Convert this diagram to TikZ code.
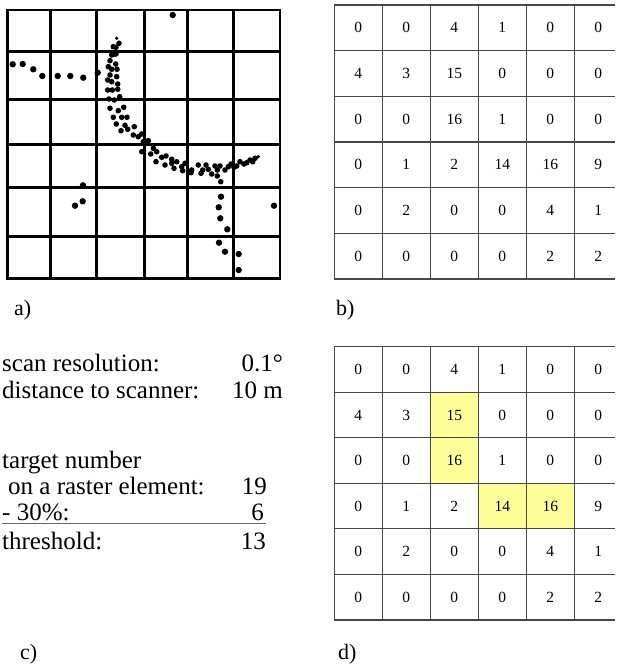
\documentclass[tikz,border=0pt]{standalone}
\usepackage{fontspec}
\setmainfont{Liberation Serif}
\definecolor{hiyellow}{HTML}{FFFF99}
\begin{document}
\begin{tikzpicture}[x=1pt,y=-1pt,
  agrid/.style={line width=2.6pt,black},
  ngrid/.style={line width=1.1pt,black!72},
  cellnum/.style={font=\fontsize{15.5}{17}\selectfont,inner sep=0pt},
  lbl/.style={font=\fontsize{22}{24}\selectfont,anchor=base west,inner sep=0pt},
  ctext/.style={font=\fontsize{25}{27}\selectfont,anchor=base west,inner sep=0pt},
  cnum/.style={font=\fontsize{25}{27}\selectfont,anchor=base east,inner sep=0pt}]
\useasboundingbox (0,0) rectangle (616,668);

% ---------- panel a: raster with scan points ----------
\foreach \x in {50.7,96.7,144.3,187.3,233.3}
  \draw[agrid] (\x,10) -- (\x,278.3);
\foreach \y in {51.7,99.3,144.3,187.7,236.7}
  \draw[agrid] (7.3,\y) -- (280,\y);
\draw[agrid] (7.3,10) rectangle (280,278.3);

% isolated / large points
\foreach \px/\py in {172.7/15,
  12.7/64.3,22.7/64,33.3/69.3,42.3/76,57.7/76,70.3/76,83.3/77.7,97.7/72.7,
  221/196.7,218.7/207.3,220.3/218.3,227.3/229.3,219/242.7,225/251.7,238.7/254,238.7/270,
  274/205.7,83/185.3,82.7/201.3,75/205.7}
  \fill (\px,\py) circle[radius=3.2pt];
% curved band of points
\foreach \px/\py in {
  119/43.3,113.3/46.7,116/47.3,111.7/55,114.3/54,116/54,110/60.7,115.7/64,
  108.3/66.7,111.7/69.3,117/69.3,110/75,116.7/76.7,107.7/80,111.7/81.7,117.7/84,
  107.7/90,112.3/90,117.7/89.3,109/99,114.3/100,119.7/96.7,110/108.3,118.3/110.7,
  123.7/107.3,113.3/117.3,121.7/117.3,127/117.3,116.3/124,125/125.3,121/130.7,
  127.7/129.3,134.3/126.7,
  133.3/135,138.3/136.7,141.7/134,143.3/141.7,148.3/140.7,141.7/151.7,153.3/148.3,
  156.7/151.7,150.7/154,156/161.7,161.7/157.3,166/156,165/165,171.7/163.3,174/168.3,
  171.7/159.3,176.7/161.7,181.7/166.7,185/163.3,182.7/170.7,191.7/170,191/172.7,
  198.3/165,202.7/170,201/173.3,206/165,208.3/169.3,211.7/174,215/166,217.3/170,
  217.3/176,220/166,220.7/181.7,225/170,228.3/166.7,231/164,234/167.3,236.7/166,
  240/161.7,244/164,246.7/162.7,250/160,252.7/161.7,255/158.3}
  \fill (\px,\py) circle[radius=2.8pt];
\fill (116.7,38.3) circle[radius=1.8pt];
\fill (258.3,156.7) circle[radius=1.8pt];

\node[lbl] (la) at (14,315) {a)};

% ---------- panel b: counts per raster element ----------
\foreach \row [count=\r from 0] in {{0,0,4,1,0,0},{4,3,15,0,0,0},{0,0,16,1,0,0},
                                    {0,1,2,14,16,9},{0,2,0,0,4,1},{0,0,0,0,2,2}}
  \foreach \v [count=\c from 0] in \row
    \node[cellnum] (b-\r-\c) at ({334.3+48*(\c+0.5)},{5+45.67*(\r+0.5)}) {\v};
\foreach \c in {0,...,5}
  \draw[ngrid] ({334.3+48*\c},5) -- ({334.3+48*\c},279);
\foreach \r in {0,...,6}
  \draw[ngrid] (334.3,{5+45.67*\r}) -- (614.5,{5+45.67*\r});

\node[lbl] (lb) at (336,315) {b)};

% ---------- panel c: parameters ----------
\node[ctext] (sr) at (2,371) {scan resolution:};
\node[cnum] (srv) at (283,371) {0.1°};
\node[ctext] (ds) at (2,398) {distance to scanner:};
\node[cnum] (dsv) at (283,398) {10 m};
\node[ctext] (tn) at (2,468) {target number};
\node[ctext] (oa) at (8,494) {on a raster element:};
\node[cnum] (oav) at (267,494) {19};
\node[ctext] (pc) at (2,520) {- 30\%:};
\node[cnum] (pcv) at (264,520) {6};
\coordinate (ul1) at (2,523.5);
\coordinate (ul2) at (266,523.5);
\draw[line width=1.3pt,black!60] (ul1) -- (ul2);
\node[ctext] (th) at (2,549) {threshold:};
\node[cnum] (thv) at (266,549) {13};

\node[lbl] (lc) at (20,659) {c)};

% ---------- panel d: elements above threshold ----------
\foreach \c/\r in {2/1,2/2,3/3,4/3}
  \fill[hiyellow] ({334.3+48*\c},{346.7+45.55*\r}) rectangle ++(48,45.55);
\foreach \row [count=\r from 0] in {{0,0,4,1,0,0},{4,3,15,0,0,0},{0,0,16,1,0,0},
                                    {0,1,2,14,16,9},{0,2,0,0,4,1},{0,0,0,0,2,2}}
  \foreach \v [count=\c from 0] in \row
    \node[cellnum] (d-\r-\c) at ({334.3+48*(\c+0.5)},{346.7+45.55*(\r+0.5)}) {\v};
\foreach \c in {0,...,5}
  \draw[ngrid] ({334.3+48*\c},346.7) -- ({334.3+48*\c},620);
\foreach \r in {0,...,6}
  \draw[ngrid] (334.3,{346.7+45.55*\r}) -- (614.5,{346.7+45.55*\r});

\node[lbl] (ld) at (338,659) {d)};
\end{tikzpicture}
\end{document}
